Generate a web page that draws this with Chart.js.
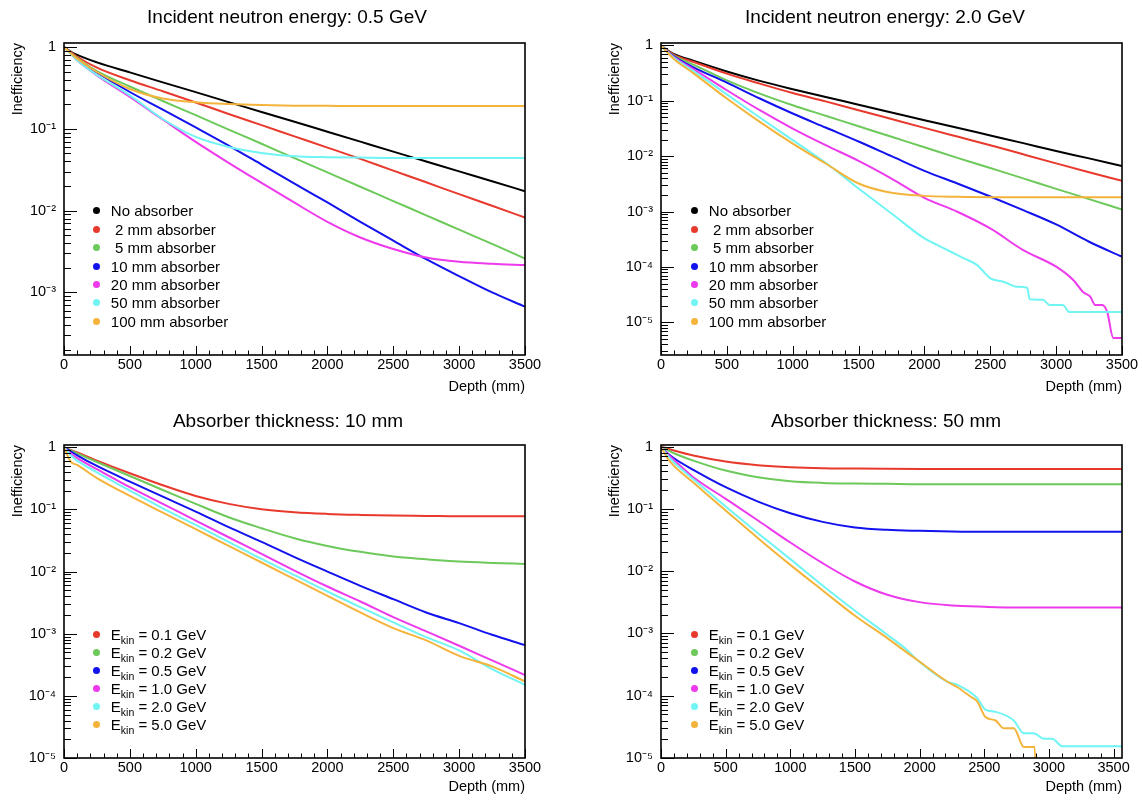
<!DOCTYPE html>
<html>
<head>
<meta charset="utf-8">
<script src="https://cdn.jsdelivr.net/npm/chart.js@4.4.1/dist/chart.umd.min.js"></script>
<style>
  body { margin: 0; background: #fff; }
  #page { position: relative; width: 1142px; height: 800px; font-family: 'Liberation Sans', Arial, Helvetica, sans-serif; color: #000; }
  canvas { position: absolute; }
  .title { position: absolute; width: 400px; text-align: center; font-size: 19px; line-height: 20px; white-space: nowrap; }
  .legend { position: absolute; font-size: 15px; }
  .legend .row { display: flex; align-items: center; white-space: pre; }
  .legend .dot { width: 7px; height: 7px; border-radius: 50%; margin-right: 11.3px; flex: none; }
  .legend sub { font-size: 10.5px; vertical-align: -4px; line-height: 0; }
</style>
</head>
<body>
<div id="page">
  <canvas id="c1" width="571" height="400" style="left:0;top:0"></canvas>
  <canvas id="c2" width="571" height="400" style="left:571px;top:0"></canvas>
  <canvas id="c3" width="571" height="400" style="left:0;top:400px"></canvas>
  <canvas id="c4" width="571" height="400" style="left:571px;top:400px"></canvas>

  <div class="title" style="left:87px;top:7px">Incident neutron energy: 0.5 GeV</div>
  <div class="title" style="left:685px;top:7px">Incident neutron energy: 2.0 GeV</div>
  <div class="title" style="left:88px;top:411px">Absorber thickness: 10 mm</div>
  <div class="title" style="left:686px;top:411px">Absorber thickness: 50 mm</div>

  <div class="legend" id="l1"></div>
  <div class="legend" id="l2"></div>
  <div class="legend" id="l3"></div>
  <div class="legend" id="l4"></div>
</div>
<script>
// depth points (mm)
const DEPTH = [0, 50, 100, 250, 500, 750, 1000, 1250, 1500, 1750, 2000, 2250, 2500, 2750, 3000, 3250, 3500];
const DEPTH_P4 = [0, 50, 100, 250, 500, 750, 1000, 1250, 1500, 1750, 2000, 2250, 2500, 2750, 3000, 3250, 3500, 3565];

// tick labels
const X_TICKS = [0, 500, 1000, 1500, 2000, 2500, 3000, 3500];
const Y_TICKS_P1 = [1, 0.1, 0.01, 0.001];
const Y_TICKS = [1, 0.1, 0.01, 0.001, 0.0001, 0.00001];

// legend labels
const ABSORBERS = ['No absorber', ' 2 mm absorber', ' 5 mm absorber', '10 mm absorber', '20 mm absorber', '50 mm absorber', '100 mm absorber'];
const ENERGIES = ['0.1', '0.2', '0.5', '1.0', '2.0', '5.0'];

// colours
const BLACK = '#000000', RED = '#e8392d', GREEN = '#6cc95a', BLUE = '#1212ee',
      MAGENTA = '#ec3aec', CYAN = '#70f4f4', ORANGE = '#f4b43c';

// top left: 0.5 GeV
const p1None   = [1, 0.88, 0.80, 0.65, 0.490, 0.370, 0.281, 0.212, 0.161, 0.122, 0.0922, 0.0697, 0.0527, 0.0399, 0.0302, 0.0229, 0.0173];
const p1Abs2   = [1, 0.87, 0.76, 0.559, 0.392, 0.288, 0.210, 0.152, 0.111, 0.0809, 0.0590, 0.0429, 0.0308, 0.0222, 0.0159, 0.0115, 0.00824];
const p1Abs5   = [1, 0.85, 0.735, 0.509, 0.329, 0.219, 0.147, 0.0980, 0.0657, 0.0438, 0.0293, 0.0196, 0.0131, 0.00877, 0.00585, 0.00392, 0.00260];
const p1Abs10  = [1, 0.84, 0.71, 0.49, 0.282, 0.172, 0.104, 0.0624, 0.0366, 0.0214, 0.0126, 0.0073, 0.0043, 0.00255, 0.00158, 0.00100, 0.00067];
const p1Abs20  = [1, 0.83, 0.69, 0.451, 0.245, 0.130, 0.0692, 0.0384, 0.0218, 0.0125, 0.0073, 0.0047, 0.0034, 0.00268, 0.00237, 0.00224, 0.00216];
const p1Abs50  = [1, 0.83, 0.69, 0.455, 0.257, 0.132, 0.0796, 0.0601, 0.0508, 0.0462, 0.0450, 0.0445, 0.0441, 0.0441, 0.0441, 0.0441, 0.0441];
const p1Abs100 = [1, 0.845, 0.721, 0.495, 0.307, 0.235, 0.212, 0.201, 0.195, 0.192, 0.191, 0.190, 0.190, 0.190, 0.190, 0.190, 0.190];

// top right: 2.0 GeV
const p2None   = [1, 0.813, 0.692, 0.525, 0.339, 0.229, 0.162, 0.117, 0.0851, 0.0617, 0.0447, 0.0327, 0.0237, 0.0172, 0.0124, 0.00912, 0.00661];
const p2Abs2   = [1, 0.804, 0.676, 0.501, 0.309, 0.204, 0.138, 0.0977, 0.0676, 0.0468, 0.0324, 0.0226, 0.0158, 0.0108, 0.00741, 0.00513, 0.00359];
const p2Abs5   = [1, 0.794, 0.646, 0.447, 0.234, 0.135, 0.0832, 0.0537, 0.0347, 0.0224, 0.0145, 0.00933, 0.00610, 0.00398, 0.00257, 0.00168, 0.00109];
const p2Abs10  = [1, 0.78, 0.63, 0.398, 0.213, 0.110, 0.0589, 0.0329, 0.0184, 0.0100, 0.00544, 0.00321, 0.00187, 0.00106, 0.000585, 0.000285, 0.000153];
const p2Depth20 = [0, 50, 100, 250, 500, 750, 1000, 1250, 1500, 1750, 2000, 2250, 2500, 2750, 3000, 3130, 3206, 3259, 3297, 3350, 3388, 3434, 3500];
const p2Abs20  = [1, 0.77, 0.61, 0.37, 0.155, 0.0676, 0.0315, 0.0158, 0.00824, 0.00395, 0.00177, 0.000991, 0.000495, 0.000201, 0.000101, 5.8e-5, 3.5e-5, 2.9e-5, 2.05e-5, 2.05e-5, 1.53e-5, 5.2e-6, 5.2e-6];
const p2Depth50 = [0, 50, 100, 250, 500, 750, 1000, 1250, 1500, 1750, 2000, 2100, 2200, 2300, 2400, 2450, 2500, 2600, 2700, 2780, 2800, 2900, 2950, 3050, 3100, 3500];
const p2Abs50  = [1, 0.75, 0.59, 0.34, 0.131, 0.0499, 0.0195, 0.00759, 0.00261, 0.000925, 0.000327, 0.000248, 0.000188, 0.000143, 0.000108, 8.2e-5, 6.2e-5, 5.4e-5, 4.4e-5, 4.2e-5, 2.6e-5, 2.55e-5, 2.05e-5, 2.05e-5, 1.53e-5, 1.53e-5];
const p2Abs100 = [1, 0.741, 0.562, 0.310, 0.110, 0.0416, 0.0169, 0.00738, 0.00321, 0.00218, 0.00192, 0.00185, 0.00182, 0.00182, 0.00182, 0.00182, 0.00182];

// bottom left: 10 mm absorber
const p3E01 = [1, 0.906, 0.824, 0.611, 0.382, 0.245, 0.165, 0.123, 0.101, 0.0902, 0.0848, 0.0817, 0.0796, 0.0788, 0.0778, 0.0778, 0.0778];
const p3E02 = [1, 0.895, 0.801, 0.581, 0.346, 0.206, 0.123, 0.0750, 0.0499, 0.0344, 0.0259, 0.0208, 0.0175, 0.0158, 0.0145, 0.0138, 0.0133];
const p3E05 = [1, 0.863, 0.744, 0.501, 0.281, 0.161, 0.0925, 0.0518, 0.0301, 0.0171, 0.0100, 0.00590, 0.00360, 0.00220, 0.00148, 0.000961, 0.000656];
const p3E10 = [1, 0.801, 0.668, 0.445, 0.228, 0.123, 0.0662, 0.0357, 0.0193, 0.0104, 0.00575, 0.00330, 0.00185, 0.00109, 0.000640, 0.000372, 0.000216];
const p3E20 = [1, 0.753, 0.611, 0.396, 0.201, 0.104, 0.0564, 0.0301, 0.0160, 0.00875, 0.00478, 0.00268, 0.00152, 0.000881, 0.000538, 0.000270, 0.000151];
const p3E50 = [1, 0.589, 0.520, 0.319, 0.165, 0.0891, 0.0481, 0.0259, 0.0140, 0.00755, 0.00407, 0.00220, 0.00123, 0.00078, 0.00044, 0.000298, 0.000171];

// bottom right: 50 mm absorber
const p4E01 = [1, 0.929, 0.863, 0.717, 0.574, 0.502, 0.466, 0.449, 0.444, 0.440, 0.438, 0.438, 0.438, 0.438, 0.438, 0.438, 0.438, 0.438];
const p4E02 = [1, 0.885, 0.782, 0.596, 0.412, 0.322, 0.278, 0.261, 0.255, 0.252, 0.249, 0.249, 0.249, 0.249, 0.249, 0.249, 0.249, 0.249];
const p4E05 = [1, 0.782, 0.650, 0.423, 0.223, 0.131, 0.0851, 0.0618, 0.0502, 0.0460, 0.0444, 0.0433, 0.0428, 0.0428, 0.0428, 0.0428, 0.0428, 0.0428];
const p4E10 = [1, 0.76, 0.61, 0.322, 0.145, 0.0650, 0.0288, 0.0134, 0.00682, 0.00417, 0.00318, 0.00281, 0.00268, 0.00261, 0.00261, 0.00261, 0.00261, 0.00261];
const p4Depth20 = [0, 50, 100, 250, 500, 750, 1000, 1250, 1500, 1750, 1900, 1980, 2212, 2290, 2445, 2509, 2587, 2728, 2806, 2883, 2961, 3025, 3103, 3565];
const p4E20 = [1, 0.72, 0.554, 0.299, 0.109, 0.0407, 0.0156, 0.00589, 0.00231, 0.000952, 0.000547, 0.000378, 0.000169, 0.000150, 9.2e-5, 5.96e-5, 5.5e-5, 4.0e-5, 2.5e-5, 2.5e-5, 2.04e-5, 2.04e-5, 1.54e-5, 1.54e-5];
const p4Depth50 = [0, 50, 100, 250, 500, 750, 1000, 1250, 1500, 1750, 1900, 1980, 2212, 2290, 2393, 2445, 2509, 2587, 2651, 2728, 2806, 2890, 2905];
const p4E50 = [1, 0.65, 0.49, 0.264, 0.094, 0.0338, 0.0126, 0.0049, 0.00192, 0.000842, 0.000496, 0.000378, 0.000169, 0.000138, 9.7e-5, 8.1e-5, 4.55e-5, 4.0e-5, 3.0e-5, 3.0e-5, 1.5e-5, 1.5e-5, 1e-6];

const FONT = "'Liberation Sans', Arial, Helvetica, sans-serif";
const SUP = { '-': '\u207B', '0': '\u2070', '1': '\u00B9', '2': '\u00B2', '3': '\u00B3', '4': '\u2074', '5': '\u2075' };

function decadeLabel(v) {
  const e = Math.round(Math.log10(v));
  if (e === 0) return '1';
  return '10' + String(e).split('').map(c => SUP[c]).join('');
}

// ROOT style frame with inward ticks
const rootAxes = {
  id: 'rootAxes',
  afterDraw(chart) {
    const { ctx, chartArea: a, scales: { x, y } } = chart;
    ctx.save();
    ctx.strokeStyle = '#000';
    ctx.lineWidth = 1;
    ctx.beginPath();
    for (let v = 0; v <= x.max; v += 100) {
      const px = Math.round(x.getPixelForValue(v)) + 0.5;
      const len = v % 500 === 0 ? 9 : 4.5;
      ctx.moveTo(px, a.bottom);
      ctx.lineTo(px, a.bottom - len);
    }
    for (let e = Math.floor(Math.log10(y.min)); e <= 0; e++) {
      for (let m = 1; m <= 9; m++) {
        const v = m * Math.pow(10, e);
        if (v < y.min || v > y.max) continue;
        const py = Math.round(y.getPixelForValue(v)) + 0.5;
        ctx.moveTo(a.left, py);
        ctx.lineTo(a.left + (m === 1 ? 13 : 7), py);
      }
    }
    ctx.stroke();
    ctx.lineWidth = 1.6;
    ctx.strokeRect(a.left, a.top, a.right - a.left, a.bottom - a.top);
    ctx.restore();
  }
};

function drawPanel(id, box, yMin, yMax, xMax, yTicks, lines) {
  const canvas = document.getElementById(id);
  const W = canvas.width, H = canvas.height;
  return new Chart(canvas, {
    type: 'line',
    data: {
      datasets: lines.map((l, i) => ({
        data: l.depth.map((d, k) => ({ x: d, y: l.values[k] })),
        borderColor: l.color,
        borderWidth: 2,
        pointRadius: 0,
        cubicInterpolationMode: 'monotone',
        fill: false,
        order: -i
      }))
    },
    options: {
      responsive: false,
      animation: false,
      events: [],
      layout: { padding: { left: box.padLeft, top: box.top, right: W - box.right, bottom: 0 } },
      plugins: { legend: { display: false }, tooltip: { enabled: false } },
      scales: {
        x: {
          type: 'linear', min: 0, max: xMax,
          grid: { display: false, drawTicks: false },
          border: { display: false },
          afterBuildTicks: s => { s.ticks = X_TICKS.map(v => ({ value: v })); },
          afterFit: s => { s.height = H - box.bottom; },
          ticks: { color: '#000', font: { size: 14.5, family: FONT }, padding: 1, maxRotation: 0, autoSkip: false, callback: v => String(v) },
          title: { display: true, text: 'Depth (mm)', align: 'end', color: '#000', font: { size: 14.5, family: FONT }, padding: { top: 0, bottom: 4.5 } }
        },
        y: {
          type: 'logarithmic', min: yMin, max: yMax,
          grid: { display: false, drawTicks: false },
          border: { display: false },
          afterBuildTicks: s => { s.ticks = yTicks.map(v => ({ value: v })); },
          afterFit: s => { s.width = box.left - box.padLeft; },
          ticks: { color: '#000', font: { size: 14.5, family: FONT }, padding: 8, autoSkip: false, callback: v => decadeLabel(v) },
          title: { display: true, text: 'Inefficiency', align: 'end', color: '#000', font: { size: 14.5, family: FONT }, padding: { top: 9.3, bottom: 0 } }
        }
      }
    },
    plugins: [rootAxes]
  });
}

function legend(id, dotX, firstY, rowH, labels, colors) {
  const el = document.getElementById(id);
  el.style.left = (dotX - 3.5) + 'px';
  el.style.top = (firstY - rowH / 2) + 'px';
  el.innerHTML = labels.map((t, i) =>
    '<div class="row" style="height:' + rowH + 'px"><span class="dot" style="background:' + colors[i] + '"></span><span>' + t + '</span></div>'
  ).join('');
}

const ABS_COLORS = [BLACK, RED, GREEN, BLUE, MAGENTA, CYAN, ORANGE];
const E_COLORS = [RED, GREEN, BLUE, MAGENTA, CYAN, ORANGE];

drawPanel('c1', { padLeft: 0, left: 64, top: 43, right: 525, bottom: 355 }, 1.72e-4, 1.12, 3500, Y_TICKS_P1, [
  { depth: DEPTH, values: p1None, color: BLACK },
  { depth: DEPTH, values: p1Abs2, color: RED },
  { depth: DEPTH, values: p1Abs5, color: GREEN },
  { depth: DEPTH, values: p1Abs10, color: BLUE },
  { depth: DEPTH, values: p1Abs20, color: MAGENTA },
  { depth: DEPTH, values: p1Abs50, color: CYAN },
  { depth: DEPTH, values: p1Abs100, color: ORANGE }
]);

drawPanel('c2', { padLeft: 26, left: 90, top: 43, right: 551, bottom: 355 }, 2.57e-6, 1.106, 3500, Y_TICKS, [
  { depth: DEPTH, values: p2None, color: BLACK },
  { depth: DEPTH, values: p2Abs2, color: RED },
  { depth: DEPTH, values: p2Abs5, color: GREEN },
  { depth: DEPTH, values: p2Abs10, color: BLUE },
  { depth: p2Depth20, values: p2Abs20, color: MAGENTA },
  { depth: p2Depth50, values: p2Abs50, color: CYAN },
  { depth: DEPTH, values: p2Abs100, color: ORANGE }
]);

drawPanel('c3', { padLeft: 0, left: 64, top: 45, right: 525, bottom: 358 }, 1e-5, 1.09, 3500, Y_TICKS, [
  { depth: DEPTH, values: p3E01, color: RED },
  { depth: DEPTH, values: p3E02, color: GREEN },
  { depth: DEPTH, values: p3E05, color: BLUE },
  { depth: DEPTH, values: p3E10, color: MAGENTA },
  { depth: DEPTH, values: p3E20, color: CYAN },
  { depth: DEPTH, values: p3E50, color: ORANGE }
]);

drawPanel('c4', { padLeft: 26, left: 90, top: 45, right: 551, bottom: 358 }, 1e-5, 1.06, 3565, Y_TICKS, [
  { depth: DEPTH_P4, values: p4E01, color: RED },
  { depth: DEPTH_P4, values: p4E02, color: GREEN },
  { depth: DEPTH_P4, values: p4E05, color: BLUE },
  { depth: DEPTH_P4, values: p4E10, color: MAGENTA },
  { depth: p4Depth20, values: p4E20, color: CYAN },
  { depth: p4Depth50, values: p4E50, color: ORANGE }
]);

const E_LABELS = ENERGIES.map(e => 'E<sub>kin</sub> = ' + e + ' GeV');
legend('l1', 96, 211, 18.4, ABSORBERS, ABS_COLORS);
legend('l2', 694, 211, 18.4, ABSORBERS, ABS_COLORS);
legend('l3', 96, 634.3, 18, E_LABELS, E_COLORS);
legend('l4', 694, 634.3, 18, E_LABELS, E_COLORS);
</script>
</body>
</html>
